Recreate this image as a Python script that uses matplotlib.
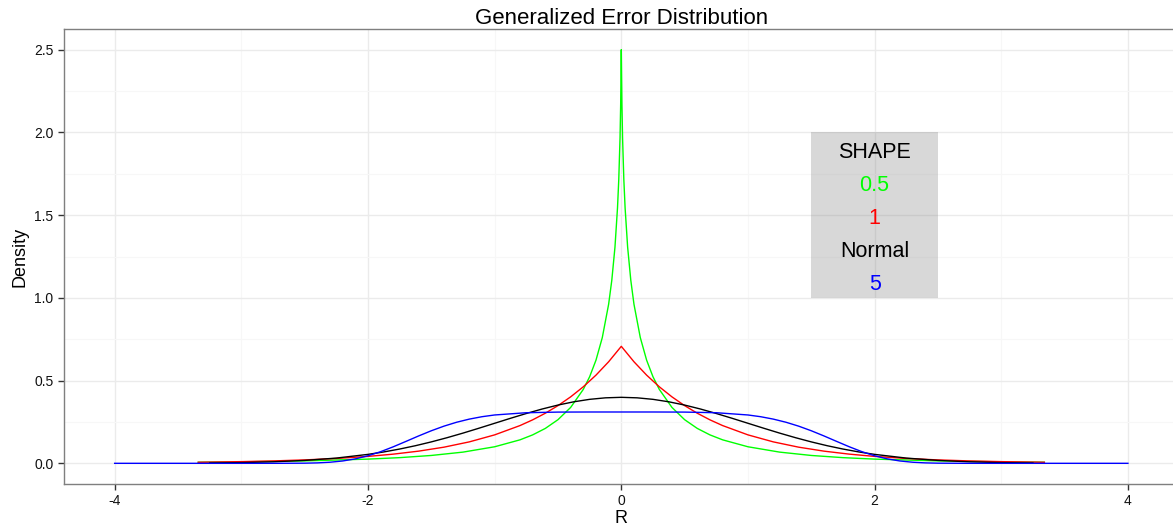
import matplotlib
matplotlib.use("Agg")
import matplotlib.pyplot as plt
from matplotlib.patches import Rectangle
from matplotlib.ticker import MultipleLocator

plt.rcParams["font.family"] = ["Liberation Sans", "DejaVu Sans"]
plt.rcParams["axes.unicode_minus"] = False

# GED densities (shape 0.5, 1, normal, 5)
x_green = [-3.34, -3.0, -2.5, -2.0, -1.75, -1.5, -1.25, -1.0, -0.8, -0.7, -0.6, -0.5, -0.4,
           -0.3, -0.25, -0.2, -0.15, -0.1, -0.075, -0.05, -0.03, -0.02, -0.01, -0.005, -0.002,
           0.0, 0.002, 0.005, 0.01, 0.02, 0.03, 0.05, 0.075, 0.1, 0.15, 0.2, 0.25, 0.3, 0.4,
           0.5, 0.6, 0.7, 0.8, 1.0, 1.25, 1.5, 1.75, 2.0, 2.5, 3.0, 3.34]
y_green = [0.0065, 0.0089, 0.0146, 0.0254, 0.0343, 0.0475, 0.0677, 0.1000, 0.1419, 0.1718,
           0.2109, 0.2637, 0.3377, 0.4469, 0.5233, 0.6233, 0.7600, 0.9615, 1.1064, 1.3066,
           1.544, 1.715, 1.967, 2.167, 2.362, 2.50, 2.362, 2.167, 1.967, 1.715, 1.544, 1.3066,
           1.1064, 0.9615, 0.7600, 0.6233, 0.5233, 0.4469, 0.3377, 0.2637, 0.2109, 0.1718,
           0.1419, 0.1000, 0.0677, 0.0475, 0.0343, 0.0254, 0.0146, 0.0089, 0.0065]

x_red = [-3.34, -3.0, -2.75, -2.5, -2.25, -2.0, -1.8, -1.6, -1.4, -1.2, -1.0, -0.8, -0.7,
         -0.6, -0.5, -0.4, -0.3, -0.2, -0.1, 0.0, 0.1, 0.2, 0.3, 0.4, 0.5, 0.6, 0.7, 0.8,
         1.0, 1.2, 1.4, 1.6, 1.8, 2.0, 2.25, 2.5, 2.75, 3.0, 3.34]
y_red = [0.0063, 0.0102, 0.0145, 0.0206, 0.0293, 0.0418, 0.0555, 0.0736, 0.0976, 0.1296,
         0.1719, 0.2281, 0.2627, 0.3027, 0.3487, 0.4016, 0.4626, 0.5329, 0.6138, 0.7071,
         0.6138, 0.5329, 0.4626, 0.4016, 0.3487, 0.3027, 0.2627, 0.2281, 0.1719, 0.1296,
         0.0976, 0.0736, 0.0555, 0.0418, 0.0293, 0.0206, 0.0145, 0.0102, 0.0063]

x_black = [-3.25, -3.0, -2.75, -2.5, -2.25, -2.0, -1.875, -1.75, -1.625, -1.5, -1.375, -1.25,
           -1.125, -1.0, -0.875, -0.75, -0.625, -0.5, -0.375, -0.25, -0.125, 0.0, 0.125, 0.25,
           0.375, 0.5, 0.625, 0.75, 0.875, 1.0, 1.125, 1.25, 1.375, 1.5, 1.625, 1.75, 1.875,
           2.0, 2.25, 2.5, 2.75, 3.0, 3.25]
y_black = [0.0020, 0.0044, 0.0091, 0.0175, 0.0317, 0.0540, 0.0688, 0.0863, 0.1065, 0.1295,
           0.1550, 0.1826, 0.2119, 0.2420, 0.2721, 0.3011, 0.3282, 0.3521, 0.3718, 0.3867,
           0.3958, 0.3989, 0.3958, 0.3867, 0.3718, 0.3521, 0.3282, 0.3011, 0.2721, 0.2420,
           0.2119, 0.1826, 0.1550, 0.1295, 0.1065, 0.0863, 0.0688, 0.0540, 0.0317, 0.0175,
           0.0091, 0.0044, 0.0020]

x_blue = [-4.0, -3.0, -2.7, -2.5, -2.4, -2.3, -2.2, -2.1, -2.0, -1.9, -1.8, -1.7, -1.6, -1.5,
          -1.4, -1.3, -1.2, -1.1, -1.0, -0.75, -0.5, -0.25, 0.0, 0.25, 0.5, 0.75, 1.0, 1.1,
          1.2, 1.3, 1.4, 1.5, 1.6, 1.7, 1.8, 1.9, 2.0, 2.1, 2.2, 2.3, 2.4, 2.5, 2.7, 3.0, 4.0]
y_blue = [0.0, 0.0, 0.0001, 0.0009, 0.0026, 0.0066, 0.0141, 0.0268, 0.0456, 0.0703, 0.1000,
          0.1325, 0.1655, 0.1968, 0.2247, 0.2483, 0.2672, 0.2817, 0.2922, 0.3058, 0.3096,
          0.3102, 0.3102, 0.3102, 0.3096, 0.3058, 0.2922, 0.2817, 0.2672, 0.2483, 0.2247,
          0.1968, 0.1655, 0.1325, 0.1000, 0.0703, 0.0456, 0.0268, 0.0141, 0.0066, 0.0026,
          0.0009, 0.0001, 0.0, 0.0]

legend_labels = ["0.5", "1", "Normal", "5"]
legend_colors = ["#00FF00", "#FF0000", "black", "#0000FF"]

W, H = 1173, 528
fig = plt.figure(figsize=(W / 100, H / 100), dpi=100)
ax = fig.add_axes([64 / W, (H - 484) / H, 1114.6 / W, 455 / H])

ax.set_xlim(-4.4, 4.4)
ax.set_ylim(-0.125, 2.625)
ax.xaxis.set_major_locator(MultipleLocator(2))
ax.xaxis.set_minor_locator(MultipleLocator(1))
ax.yaxis.set_major_locator(MultipleLocator(0.5))
ax.yaxis.set_minor_locator(MultipleLocator(0.25))
ax.grid(True, which="major", color="#EBEBEB", linewidth=1.0)
ax.grid(True, which="minor", color="#F7F7F7", linewidth=0.8)
ax.set_axisbelow(True)
for s in ax.spines.values():
    s.set_color("#7F7F7F")
    s.set_linewidth(1.0)
ax.tick_params(which="minor", length=0)
ax.tick_params(which="major", length=4, width=1, color="#333333", labelsize=10,
               labelcolor="#111111")

ax.plot(x_green, y_green, color=legend_colors[0], lw=1.0, zorder=2)
ax.plot(x_red, y_red, color=legend_colors[1], lw=1.0, zorder=3)
ax.plot(x_black, y_black, color=legend_colors[2], lw=1.0, zorder=4)
ax.plot(x_blue, y_blue, color=legend_colors[3], lw=1.0, zorder=5)

ax.add_patch(Rectangle((1.5, 1.0), 1.0, 1.0, facecolor="#808080", alpha=0.3,
                       edgecolor="none", zorder=1))
ax.text(2.0, 1.88, "SHAPE", ha="center", va="center", fontsize=15.5, color="black", zorder=6)
for lab, col, yy in zip(legend_labels, legend_colors, [1.68, 1.48, 1.28, 1.08]):
    ax.text(2.0, yy, lab, ha="center", va="center", fontsize=15.5, color=col, zorder=6)

ax.set_title("Generalized Error Distribution", fontsize=16, pad=3)
ax.set_xlabel("R", fontsize=13, labelpad=1)
ax.set_ylabel("Density", fontsize=13, labelpad=4)

fig.savefig("out.png", dpi=100)
